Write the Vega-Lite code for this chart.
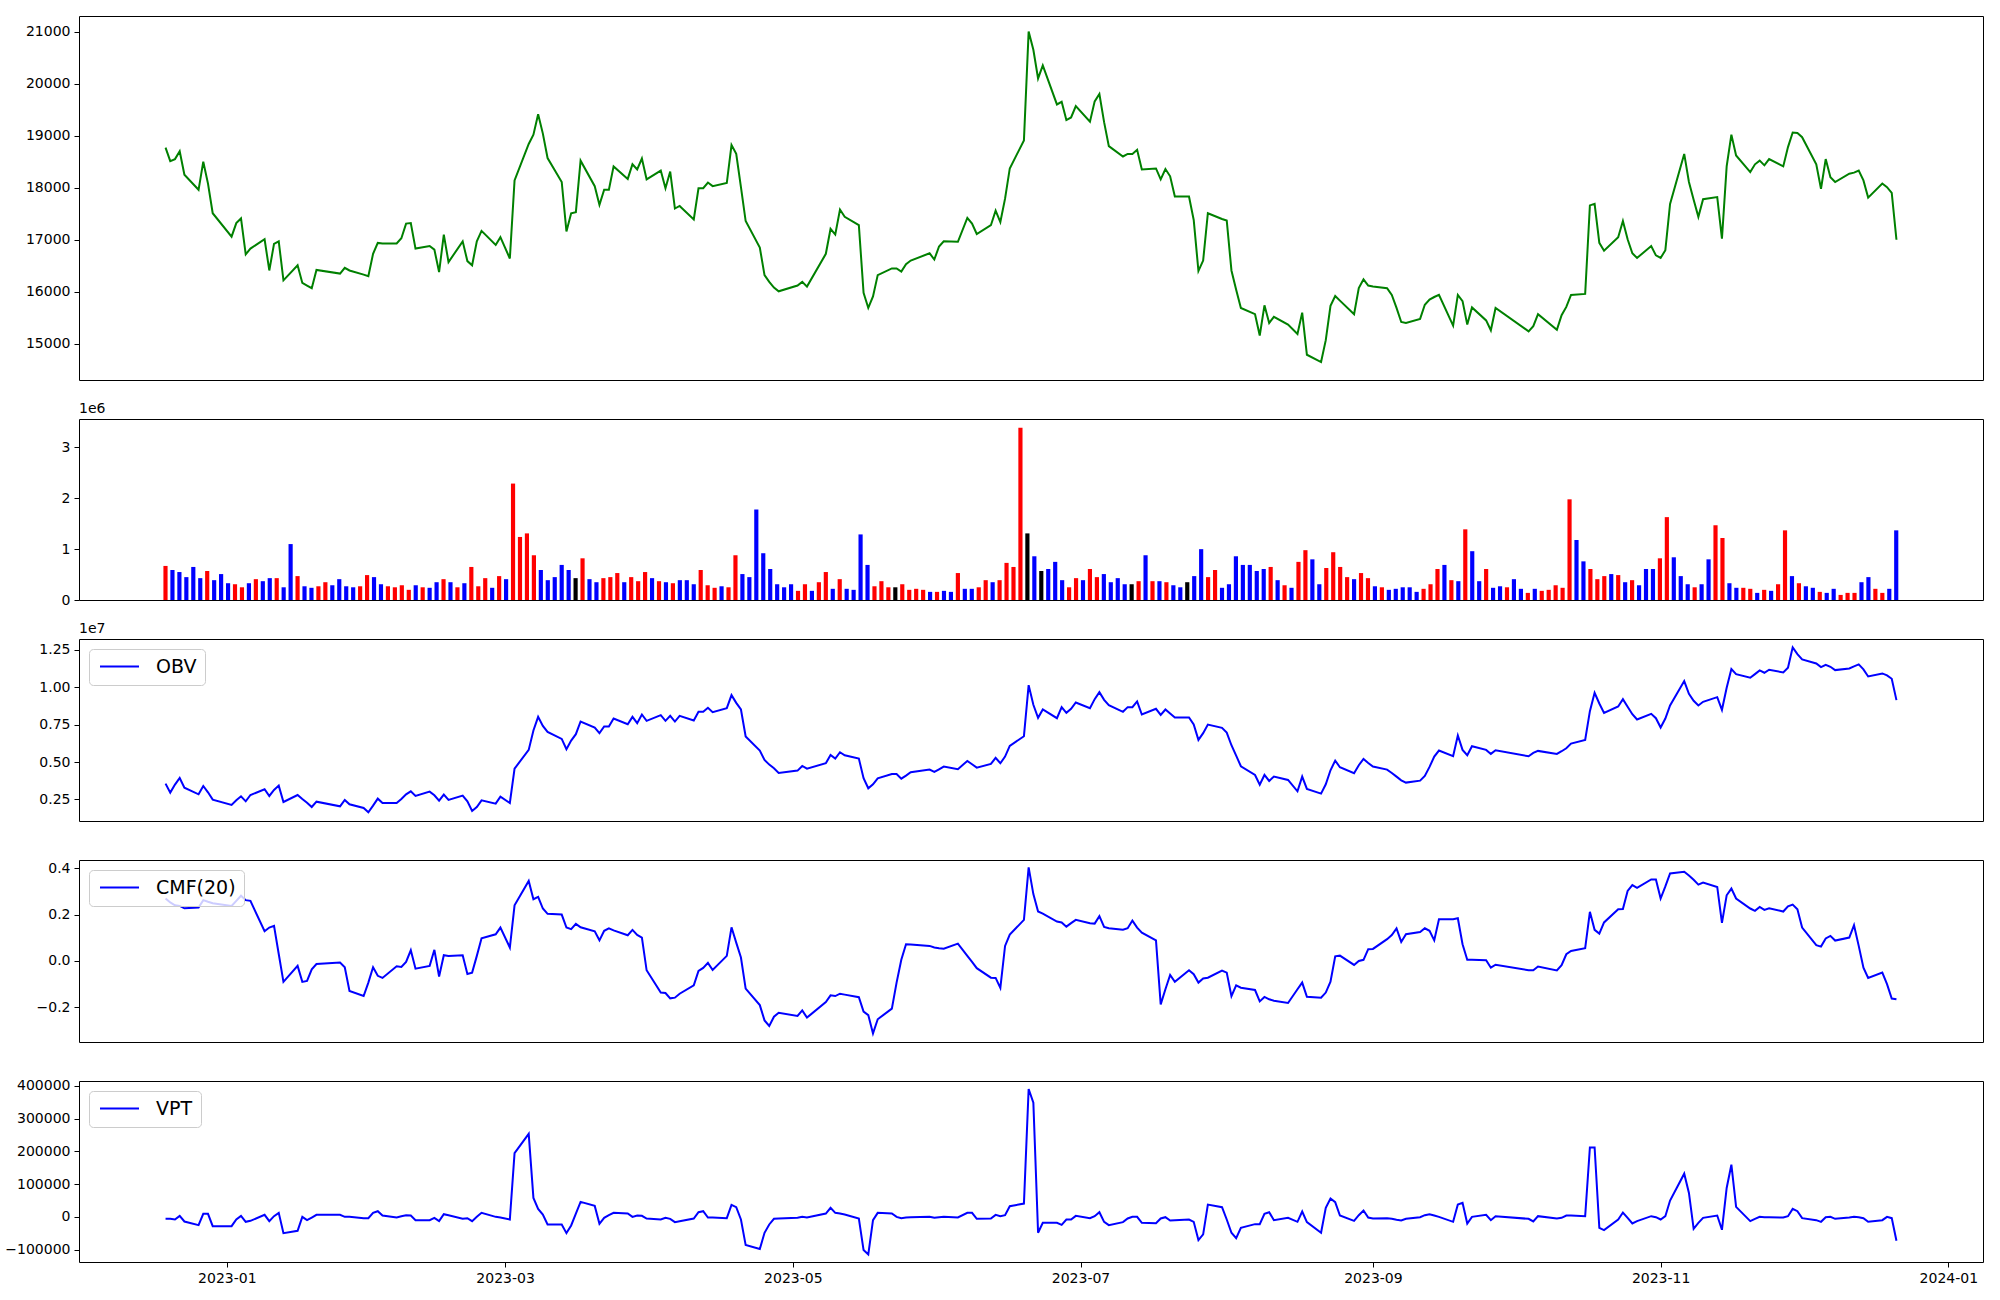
{
"$schema":"https://vega.github.io/schema/vega-lite/v6.json",
"background":"white",
"padding":{"left":4,"top":15,"right":10,"bottom":5},
"config":{
"view":{"stroke":"black","strokeWidth":1},
"font":"DejaVu Sans",
"axis":{"labelFont":"DejaVu Sans","labelFontSize":14,"labelColor":"black","tickColor":"black","tickSize":5,"labelPadding":4,"domain":false,"grid":false,"title":null,"labelFlush":false,"labelOverlap":false},
"legend":{"orient":"top-left","offset":10,"fillColor":"rgba(255,255,255,0.8)","strokeColor":"#cccccc","cornerRadius":4,"padding":8,"title":null,"labelFont":"DejaVu Sans","labelFontSize":19,"labelColor":"black","labelOffset":27,"symbolType":"M-3,0L3,0","symbolSize":169,"symbolOffset":13,"symbolStrokeWidth":2},
"title":{"anchor":"start","fontSize":14,"font":"DejaVu Sans","fontWeight":"normal","color":"black","offset":3,"frame":"group"}
},
"datasets":{"d":[
{"date":"2022-12-19","close":18770,"volume":670000,"dir":"up","obv":3560000,"cmf":0.269,"vpt":-5686},
{"date":"2022-12-20","close":18510,"volume":590000,"dir":"down","obv":2957000,"cmf":0.252,"vpt":-5686},
{"date":"2022-12-21","close":18550,"volume":550000,"dir":"down","obv":3493000,"cmf":0.240,"vpt":-7712},
{"date":"2022-12-22","close":18700,"volume":450000,"dir":"down","obv":3939000,"cmf":0.237,"vpt":3433},
{"date":"2022-12-23","close":18250,"volume":650000,"dir":"down","obv":3292000,"cmf":0.227,"vpt":-13791},
{"date":"2022-12-26","close":17960,"volume":430000,"dir":"down","obv":2845000,"cmf":0.230,"vpt":-24936},
{"date":"2022-12-27","close":18500,"volume":570000,"dir":"up","obv":3403000,"cmf":0.262,"vpt":9512},
{"date":"2022-12-28","close":18080,"volume":390000,"dir":"down","obv":2979000,"cmf":0.255,"vpt":9512},
{"date":"2022-12-29","close":17510,"volume":510000,"dir":"down","obv":2488000,"cmf":0.249,"vpt":-27976},
{"date":"2023-01-02","close":17060,"volume":330000,"dir":"down","obv":2131000,"cmf":0.237,"vpt":-27976},
{"date":"2023-01-03","close":17320,"volume":310000,"dir":"up","obv":2443000,"cmf":0.259,"vpt":-7712},
{"date":"2023-01-04","close":17410,"volume":250000,"dir":"up","obv":2711000,"cmf":0.281,"vpt":3433},
{"date":"2023-01-05","close":16720,"volume":330000,"dir":"down","obv":2376000,"cmf":0.262,"vpt":-14804},
{"date":"2023-01-06","close":16830,"volume":410000,"dir":"up","obv":2800000,"cmf":0.259,"vpt":-11765},
{"date":"2023-01-09","close":17010,"volume":370000,"dir":"down","obv":3180000,"cmf":0.128,"vpt":6473},
{"date":"2023-01-10","close":16410,"volume":430000,"dir":"down","obv":2734000,"cmf":0.144,"vpt":-12778},
{"date":"2023-01-11","close":16920,"volume":430000,"dir":"up","obv":3135000,"cmf":0.151,"vpt":2420},
{"date":"2023-01-12","close":16970,"volume":250000,"dir":"down","obv":3426000,"cmf":0.030,"vpt":12552},
{"date":"2023-01-13","close":16220,"volume":1100000,"dir":"down","obv":2332000,"cmf":-0.090,"vpt":-49253},
{"date":"2023-01-16","close":16510,"volume":470000,"dir":"up","obv":2800000,"cmf":-0.021,"vpt":-42161},
{"date":"2023-01-17","close":16170,"volume":270000,"dir":"down","obv":2533000,"cmf":-0.090,"vpt":394},
{"date":"2023-01-18","close":16120,"volume":240000,"dir":"down","obv":2287000,"cmf":-0.086,"vpt":-9738},
{"date":"2023-01-19","close":16070,"volume":270000,"dir":"up","obv":1997000,"cmf":-0.036,"vpt":-1633},
{"date":"2023-01-20","close":16420,"volume":350000,"dir":"up","obv":2354000,"cmf":-0.013,"vpt":6473},
{"date":"2023-01-25","close":16350,"volume":290000,"dir":"down","obv":2041000,"cmf":-0.007,"vpt":6473},
{"date":"2023-01-26","close":16460,"volume":410000,"dir":"down","obv":2466000,"cmf":-0.027,"vpt":394},
{"date":"2023-01-27","close":16410,"volume":270000,"dir":"down","obv":2175000,"cmf":-0.129,"vpt":394},
{"date":"2023-01-30","close":16330,"volume":250000,"dir":"down","obv":1930000,"cmf":-0.151,"vpt":-3659},
{"date":"2023-01-31","close":16300,"volume":270000,"dir":"up","obv":1640000,"cmf":-0.093,"vpt":-3659},
{"date":"2023-02-01","close":16730,"volume":490000,"dir":"up","obv":2086000,"cmf":-0.027,"vpt":12552},
{"date":"2023-02-02","close":16940,"volume":450000,"dir":"down","obv":2555000,"cmf":-0.064,"vpt":17618},
{"date":"2023-02-03","close":16930,"volume":310000,"dir":"down","obv":2265000,"cmf":-0.073,"vpt":4446},
{"date":"2023-02-06","close":16930,"volume":270000,"dir":"up","obv":2265000,"cmf":-0.023,"vpt":-1633},
{"date":"2023-02-07","close":17030,"volume":250000,"dir":"up","obv":2533000,"cmf":-0.026,"vpt":2420},
{"date":"2023-02-08","close":17310,"volume":290000,"dir":"up","obv":2845000,"cmf":-0.004,"vpt":5460},
{"date":"2023-02-09","close":17320,"volume":200000,"dir":"up","obv":3046000,"cmf":0.046,"vpt":4446},
{"date":"2023-02-10","close":16830,"volume":290000,"dir":"down","obv":2734000,"cmf":-0.033,"vpt":-9738},
{"date":"2023-02-13","close":16880,"volume":250000,"dir":"up","obv":3024000,"cmf":-0.021,"vpt":-9738},
{"date":"2023-02-14","close":16810,"volume":240000,"dir":"down","obv":2778000,"cmf":0.048,"vpt":-2646},
{"date":"2023-02-15","close":16380,"volume":350000,"dir":"down","obv":2421000,"cmf":-0.067,"vpt":-12778},
{"date":"2023-02-16","close":17100,"volume":410000,"dir":"up","obv":2823000,"cmf":0.025,"vpt":8499},
{"date":"2023-02-17","close":16570,"volume":350000,"dir":"down","obv":2466000,"cmf":0.022,"vpt":5460},
{"date":"2023-02-20","close":16970,"volume":250000,"dir":"up","obv":2756000,"cmf":0.025,"vpt":-5686},
{"date":"2023-02-21","close":16590,"volume":330000,"dir":"down","obv":2376000,"cmf":-0.056,"vpt":-3659},
{"date":"2023-02-22","close":16510,"volume":650000,"dir":"up","obv":1729000,"cmf":-0.050,"vpt":-12778},
{"date":"2023-02-23","close":16970,"volume":270000,"dir":"up","obv":1997000,"cmf":0.022,"vpt":394},
{"date":"2023-02-24","close":17170,"volume":430000,"dir":"up","obv":2443000,"cmf":0.098,"vpt":12552},
{"date":"2023-02-27","close":16900,"volume":240000,"dir":"down","obv":2220000,"cmf":0.115,"vpt":394},
{"date":"2023-02-28","close":17050,"volume":470000,"dir":"up","obv":2689000,"cmf":0.144,"vpt":-1633},
{"date":"2023-03-02","close":16640,"volume":410000,"dir":"down","obv":2265000,"cmf":0.058,"vpt":-7712},
{"date":"2023-03-03","close":18140,"volume":2290000,"dir":"up","obv":4564000,"cmf":0.240,"vpt":194928},
{"date":"2023-03-06","close":18840,"volume":1240000,"dir":"up","obv":5815000,"cmf":0.345,"vpt":253694},
{"date":"2023-03-07","close":19020,"volume":1310000,"dir":"up","obv":7109000,"cmf":0.266,"vpt":58146},
{"date":"2023-03-08","close":19410,"volume":880000,"dir":"up","obv":8025000,"cmf":0.276,"vpt":24710},
{"date":"2023-03-09","close":19040,"volume":590000,"dir":"down","obv":7422000,"cmf":0.226,"vpt":7486},
{"date":"2023-03-10","close":18570,"volume":390000,"dir":"down","obv":7020000,"cmf":0.203,"vpt":-22910},
{"date":"2023-03-13","close":18110,"volume":450000,"dir":"down","obv":6551000,"cmf":0.200,"vpt":-22910},
{"date":"2023-03-14","close":17160,"volume":690000,"dir":"down","obv":5859000,"cmf":0.144,"vpt":-49253},
{"date":"2023-03-15","close":17510,"volume":590000,"dir":"down","obv":6440000,"cmf":0.137,"vpt":-25950},
{"date":"2023-03-16","close":17530,"volume":430000,"dir":"flat","obv":6864000,"cmf":0.160,"vpt":10526},
{"date":"2023-03-17","close":18520,"volume":820000,"dir":"up","obv":7712000,"cmf":0.145,"vpt":45988},
{"date":"2023-03-20","close":18030,"volume":410000,"dir":"down","obv":7310000,"cmf":0.128,"vpt":33830},
{"date":"2023-03-21","close":17670,"volume":350000,"dir":"down","obv":6931000,"cmf":0.089,"vpt":-20884},
{"date":"2023-03-22","close":17960,"volume":430000,"dir":"up","obv":7377000,"cmf":0.130,"vpt":-2646},
{"date":"2023-03-23","close":17960,"volume":450000,"dir":"up","obv":7377000,"cmf":0.141,"vpt":5460},
{"date":"2023-03-24","close":18410,"volume":530000,"dir":"up","obv":7913000,"cmf":0.132,"vpt":12552},
{"date":"2023-03-27","close":18170,"volume":350000,"dir":"down","obv":7534000,"cmf":0.111,"vpt":10526},
{"date":"2023-03-28","close":18450,"volume":450000,"dir":"up","obv":8025000,"cmf":0.134,"vpt":394},
{"date":"2023-03-29","close":18350,"volume":370000,"dir":"up","obv":7601000,"cmf":0.112,"vpt":4446},
{"date":"2023-03-30","close":18560,"volume":550000,"dir":"up","obv":8181000,"cmf":0.101,"vpt":3433},
{"date":"2023-03-31","close":18160,"volume":430000,"dir":"down","obv":7757000,"cmf":-0.040,"vpt":-4672},
{"date":"2023-04-03","close":18330,"volume":370000,"dir":"up","obv":8136000,"cmf":-0.136,"vpt":-7712},
{"date":"2023-04-04","close":17990,"volume":350000,"dir":"down","obv":7757000,"cmf":-0.138,"vpt":-2646},
{"date":"2023-04-05","close":18310,"volume":330000,"dir":"up","obv":8092000,"cmf":-0.161,"vpt":-5686},
{"date":"2023-04-06","close":17600,"volume":390000,"dir":"down","obv":7712000,"cmf":-0.158,"vpt":-15818},
{"date":"2023-04-07","close":17650,"volume":390000,"dir":"down","obv":8092000,"cmf":-0.141,"vpt":-12778},
{"date":"2023-04-10","close":17390,"volume":310000,"dir":"down","obv":7779000,"cmf":-0.105,"vpt":-4672},
{"date":"2023-04-11","close":17990,"volume":590000,"dir":"up","obv":8360000,"cmf":-0.043,"vpt":14578},
{"date":"2023-04-12","close":17990,"volume":290000,"dir":"up","obv":8360000,"cmf":-0.030,"vpt":17618},
{"date":"2023-04-13","close":18100,"volume":240000,"dir":"up","obv":8628000,"cmf":-0.008,"vpt":-1633},
{"date":"2023-04-14","close":18030,"volume":270000,"dir":"down","obv":8337000,"cmf":-0.039,"vpt":-1633},
{"date":"2023-04-17","close":18090,"volume":250000,"dir":"up","obv":8605000,"cmf":0.022,"vpt":-3659},
{"date":"2023-04-18","close":18820,"volume":880000,"dir":"up","obv":9476000,"cmf":0.145,"vpt":36869},
{"date":"2023-04-19","close":18650,"volume":510000,"dir":"down","obv":8962000,"cmf":0.079,"vpt":29776},
{"date":"2023-04-20","close":18010,"volume":450000,"dir":"down","obv":8516000,"cmf":0.015,"vpt":-7712},
{"date":"2023-04-21","close":17360,"volume":1780000,"dir":"down","obv":6708000,"cmf":-0.119,"vpt":-85728},
{"date":"2023-04-24","close":16850,"volume":920000,"dir":"down","obv":5770000,"cmf":-0.190,"vpt":-97887},
{"date":"2023-04-25","close":16320,"volume":610000,"dir":"down","obv":5145000,"cmf":-0.256,"vpt":-48240},
{"date":"2023-04-26","close":16190,"volume":310000,"dir":"down","obv":4832000,"cmf":-0.280,"vpt":-22910},
{"date":"2023-04-27","close":16080,"volume":250000,"dir":"down","obv":4587000,"cmf":-0.240,"vpt":-5686},
{"date":"2023-04-28","close":16010,"volume":310000,"dir":"down","obv":4274000,"cmf":-0.223,"vpt":-4672},
{"date":"2023-05-02","close":16120,"volume":180000,"dir":"up","obv":4430000,"cmf":-0.237,"vpt":-2646},
{"date":"2023-05-03","close":16190,"volume":310000,"dir":"up","obv":4743000,"cmf":-0.213,"vpt":394},
{"date":"2023-05-04","close":16100,"volume":180000,"dir":"down","obv":4564000,"cmf":-0.244,"vpt":-1633},
{"date":"2023-05-08","close":16730,"volume":350000,"dir":"up","obv":4921000,"cmf":-0.177,"vpt":10526},
{"date":"2023-05-09","close":17210,"volume":550000,"dir":"up","obv":5480000,"cmf":-0.148,"vpt":27750},
{"date":"2023-05-10","close":17100,"volume":220000,"dir":"down","obv":5234000,"cmf":-0.151,"vpt":12552},
{"date":"2023-05-11","close":17580,"volume":410000,"dir":"up","obv":5658000,"cmf":-0.141,"vpt":10526},
{"date":"2023-05-12","close":17440,"volume":220000,"dir":"down","obv":5457000,"cmf":-0.145,"vpt":7486},
{"date":"2023-05-15","close":17280,"volume":200000,"dir":"down","obv":5234000,"cmf":-0.156,"vpt":-4672},
{"date":"2023-05-16","close":15980,"volume":1290000,"dir":"down","obv":3917000,"cmf":-0.218,"vpt":-100926},
{"date":"2023-05-17","close":15690,"volume":690000,"dir":"down","obv":3247000,"cmf":-0.233,"vpt":-114098},
{"date":"2023-05-18","close":15910,"volume":270000,"dir":"up","obv":3515000,"cmf":-0.312,"vpt":-9738},
{"date":"2023-05-19","close":16320,"volume":370000,"dir":"up","obv":3917000,"cmf":-0.251,"vpt":12552},
{"date":"2023-05-22","close":16450,"volume":250000,"dir":"up","obv":4207000,"cmf":-0.205,"vpt":10526},
{"date":"2023-05-23","close":16450,"volume":250000,"dir":"flat","obv":4207000,"cmf":-0.093,"vpt":394},
{"date":"2023-05-24","close":16390,"volume":310000,"dir":"up","obv":3894000,"cmf":0.005,"vpt":-3659},
{"date":"2023-05-25","close":16530,"volume":200000,"dir":"up","obv":4095000,"cmf":0.072,"vpt":-1633},
{"date":"2023-05-26","close":16600,"volume":220000,"dir":"up","obv":4319000,"cmf":0.071,"vpt":-619},
{"date":"2023-05-30","close":16740,"volume":200000,"dir":"up","obv":4497000,"cmf":0.065,"vpt":394},
{"date":"2023-05-31","close":16620,"volume":160000,"dir":"down","obv":4341000,"cmf":0.058,"vpt":-2646},
{"date":"2023-06-01","close":16870,"volume":160000,"dir":"up","obv":4520000,"cmf":0.055,"vpt":-619},
{"date":"2023-06-02","close":16970,"volume":180000,"dir":"down","obv":4698000,"cmf":0.053,"vpt":394},
{"date":"2023-06-05","close":16960,"volume":160000,"dir":"down","obv":4520000,"cmf":0.075,"vpt":-1633},
{"date":"2023-06-07","close":17420,"volume":530000,"dir":"up","obv":5078000,"cmf":0.022,"vpt":12552},
{"date":"2023-06-08","close":17310,"volume":220000,"dir":"down","obv":4854000,"cmf":-0.004,"vpt":12552},
{"date":"2023-06-09","close":17110,"volume":220000,"dir":"down","obv":4631000,"cmf":-0.031,"vpt":-5686},
{"date":"2023-06-12","close":17280,"volume":250000,"dir":"up","obv":4877000,"cmf":-0.072,"vpt":-4672},
{"date":"2023-06-13","close":17560,"volume":390000,"dir":"up","obv":5279000,"cmf":-0.073,"vpt":6473},
{"date":"2023-06-14","close":17340,"volume":350000,"dir":"down","obv":4921000,"cmf":-0.116,"vpt":2420},
{"date":"2023-06-15","close":17790,"volume":390000,"dir":"up","obv":5368000,"cmf":0.065,"vpt":5460},
{"date":"2023-06-16","close":18370,"volume":730000,"dir":"up","obv":6082000,"cmf":0.114,"vpt":32816},
{"date":"2023-06-19","close":18910,"volume":650000,"dir":"up","obv":6730000,"cmf":0.177,"vpt":40922},
{"date":"2023-06-20","close":21000,"volume":3390000,"dir":"up","obv":10146000,"cmf":0.403,"vpt":390476},
{"date":"2023-06-21","close":20650,"volume":1310000,"dir":"flat","obv":8828000,"cmf":0.288,"vpt":348934},
{"date":"2023-06-22","close":20100,"volume":860000,"dir":"down","obv":7958000,"cmf":0.213,"vpt":-48240},
{"date":"2023-06-23","close":20350,"volume":570000,"dir":"flat","obv":8516000,"cmf":0.204,"vpt":-17844},
{"date":"2023-06-26","close":19600,"volume":610000,"dir":"down","obv":7935000,"cmf":0.170,"vpt":-17844},
{"date":"2023-06-27","close":19650,"volume":750000,"dir":"down","obv":8672000,"cmf":0.166,"vpt":-23923},
{"date":"2023-06-28","close":19300,"volume":390000,"dir":"down","obv":8293000,"cmf":0.148,"vpt":-7712},
{"date":"2023-06-29","close":19350,"volume":250000,"dir":"up","obv":8561000,"cmf":0.163,"vpt":-7712},
{"date":"2023-06-30","close":19570,"volume":430000,"dir":"up","obv":8985000,"cmf":0.177,"vpt":3433},
{"date":"2023-07-03","close":19270,"volume":390000,"dir":"down","obv":8605000,"cmf":0.163,"vpt":-3659},
{"date":"2023-07-04","close":19660,"volume":610000,"dir":"up","obv":9208000,"cmf":0.161,"vpt":2420},
{"date":"2023-07-05","close":19800,"volume":450000,"dir":"up","obv":9677000,"cmf":0.193,"vpt":14578},
{"date":"2023-07-06","close":19260,"volume":510000,"dir":"down","obv":9163000,"cmf":0.147,"vpt":-14804},
{"date":"2023-07-07","close":18800,"volume":350000,"dir":"down","obv":8806000,"cmf":0.141,"vpt":-24936},
{"date":"2023-07-10","close":18600,"volume":430000,"dir":"down","obv":8360000,"cmf":0.135,"vpt":-15818},
{"date":"2023-07-11","close":18650,"volume":310000,"dir":"down","obv":8672000,"cmf":0.141,"vpt":-4672},
{"date":"2023-07-12","close":18650,"volume":310000,"dir":"flat","obv":8672000,"cmf":0.174,"vpt":394},
{"date":"2023-07-13","close":18730,"volume":370000,"dir":"up","obv":9052000,"cmf":0.144,"vpt":394},
{"date":"2023-07-14","close":18350,"volume":880000,"dir":"down","obv":8181000,"cmf":0.122,"vpt":-17844},
{"date":"2023-07-17","close":18370,"volume":370000,"dir":"up","obv":8561000,"cmf":0.089,"vpt":-18857},
{"date":"2023-07-18","close":18160,"volume":370000,"dir":"down","obv":8159000,"cmf":-0.187,"vpt":-4672},
{"date":"2023-07-19","close":18360,"volume":350000,"dir":"up","obv":8516000,"cmf":-0.122,"vpt":-619},
{"date":"2023-07-20","close":18220,"volume":290000,"dir":"down","obv":8248000,"cmf":-0.060,"vpt":-10752},
{"date":"2023-07-21","close":17830,"volume":250000,"dir":"down","obv":7980000,"cmf":-0.090,"vpt":-9738},
{"date":"2023-07-24","close":17830,"volume":350000,"dir":"flat","obv":7980000,"cmf":-0.040,"vpt":-7712},
{"date":"2023-07-25","close":17380,"volume":470000,"dir":"down","obv":7511000,"cmf":-0.057,"vpt":-14804},
{"date":"2023-07-26","close":16400,"volume":1000000,"dir":"down","obv":6484000,"cmf":-0.093,"vpt":-70530},
{"date":"2023-07-27","close":16600,"volume":450000,"dir":"up","obv":6931000,"cmf":-0.075,"vpt":-53306},
{"date":"2023-07-28","close":17510,"volume":590000,"dir":"up","obv":7511000,"cmf":-0.072,"vpt":37882},
{"date":"2023-07-31","close":17400,"volume":240000,"dir":"down","obv":7288000,"cmf":-0.041,"vpt":29776},
{"date":"2023-08-01","close":17370,"volume":310000,"dir":"down","obv":6975000,"cmf":-0.050,"vpt":-7712},
{"date":"2023-08-02","close":16410,"volume":860000,"dir":"down","obv":6127000,"cmf":-0.152,"vpt":-48240},
{"date":"2023-08-03","close":16040,"volume":690000,"dir":"down","obv":5435000,"cmf":-0.105,"vpt":-64451},
{"date":"2023-08-04","close":15690,"volume":690000,"dir":"down","obv":4720000,"cmf":-0.115,"vpt":-33042},
{"date":"2023-08-07","close":15570,"volume":570000,"dir":"down","obv":4140000,"cmf":-0.125,"vpt":-21897},
{"date":"2023-08-08","close":15160,"volume":610000,"dir":"down","obv":3493000,"cmf":-0.174,"vpt":-21897},
{"date":"2023-08-09","close":15740,"volume":650000,"dir":"up","obv":4140000,"cmf":-0.155,"vpt":9512},
{"date":"2023-08-10","close":15400,"volume":390000,"dir":"down","obv":3738000,"cmf":-0.165,"vpt":14578},
{"date":"2023-08-11","close":15520,"volume":290000,"dir":"up","obv":4028000,"cmf":-0.171,"vpt":-9738},
{"date":"2023-08-14","close":15370,"volume":240000,"dir":"down","obv":3805000,"cmf":-0.181,"vpt":-2646},
{"date":"2023-08-16","close":15190,"volume":750000,"dir":"up","obv":3046000,"cmf":-0.122,"vpt":-14804},
{"date":"2023-08-17","close":15600,"volume":980000,"dir":"up","obv":4028000,"cmf":-0.093,"vpt":16604},
{"date":"2023-08-18","close":14790,"volume":800000,"dir":"down","obv":3202000,"cmf":-0.154,"vpt":-15818},
{"date":"2023-08-21","close":14650,"volume":310000,"dir":"down","obv":2890000,"cmf":-0.158,"vpt":-48240},
{"date":"2023-08-22","close":15070,"volume":630000,"dir":"up","obv":3515000,"cmf":-0.136,"vpt":27750},
{"date":"2023-08-23","close":15730,"volume":940000,"dir":"up","obv":4453000,"cmf":-0.089,"vpt":56120},
{"date":"2023-08-24","close":15920,"volume":650000,"dir":"up","obv":5100000,"cmf":0.020,"vpt":44975},
{"date":"2023-08-25","close":15830,"volume":450000,"dir":"up","obv":4654000,"cmf":0.023,"vpt":4446},
{"date":"2023-08-28","close":15570,"volume":410000,"dir":"down","obv":4252000,"cmf":-0.017,"vpt":-11765},
{"date":"2023-08-29","close":16070,"volume":530000,"dir":"up","obv":4788000,"cmf":0.000,"vpt":5460},
{"date":"2023-08-30","close":16240,"volume":430000,"dir":"up","obv":5212000,"cmf":0.005,"vpt":19644},
{"date":"2023-08-31","close":16120,"volume":270000,"dir":"down","obv":4944000,"cmf":0.051,"vpt":-1633},
{"date":"2023-09-01","close":16100,"volume":250000,"dir":"up","obv":4698000,"cmf":0.052,"vpt":-4672},
{"date":"2023-09-04","close":16070,"volume":200000,"dir":"down","obv":4497000,"cmf":0.094,"vpt":-3659},
{"date":"2023-09-05","close":15940,"volume":220000,"dir":"down","obv":4274000,"cmf":0.112,"vpt":-5686},
{"date":"2023-09-06","close":15690,"volume":250000,"dir":"down","obv":4028000,"cmf":0.140,"vpt":-8725},
{"date":"2023-09-07","close":15420,"volume":250000,"dir":"down","obv":3783000,"cmf":0.082,"vpt":-10752},
{"date":"2023-09-08","close":15400,"volume":160000,"dir":"down","obv":3627000,"cmf":0.115,"vpt":-5686},
{"date":"2023-09-11","close":15480,"volume":220000,"dir":"up","obv":3760000,"cmf":0.125,"vpt":-619},
{"date":"2023-09-12","close":15750,"volume":310000,"dir":"up","obv":4073000,"cmf":0.141,"vpt":5460},
{"date":"2023-09-13","close":15850,"volume":610000,"dir":"up","obv":4676000,"cmf":0.130,"vpt":8499},
{"date":"2023-09-14","close":15900,"volume":690000,"dir":"down","obv":5368000,"cmf":0.089,"vpt":4446},
{"date":"2023-09-15","close":15940,"volume":390000,"dir":"up","obv":5770000,"cmf":0.180,"vpt":394},
{"date":"2023-09-18","close":15350,"volume":370000,"dir":"down","obv":5390000,"cmf":0.180,"vpt":-14804},
{"date":"2023-09-19","close":15940,"volume":1390000,"dir":"up","obv":6775000,"cmf":0.184,"vpt":37882},
{"date":"2023-09-20","close":15820,"volume":960000,"dir":"down","obv":5815000,"cmf":0.072,"vpt":42948},
{"date":"2023-09-21","close":15370,"volume":370000,"dir":"down","obv":5457000,"cmf":0.005,"vpt":-19870},
{"date":"2023-09-22","close":15700,"volume":610000,"dir":"up","obv":6060000,"cmf":0.005,"vpt":394},
{"date":"2023-09-25","close":15450,"volume":240000,"dir":"down","obv":5815000,"cmf":0.003,"vpt":6473},
{"date":"2023-09-26","close":15260,"volume":270000,"dir":"down","obv":5547000,"cmf":-0.029,"vpt":-9738},
{"date":"2023-09-27","close":15690,"volume":250000,"dir":"up","obv":5792000,"cmf":-0.016,"vpt":2420},
{"date":"2023-10-04","close":15240,"volume":410000,"dir":"down","obv":5390000,"cmf":-0.040,"vpt":-5686},
{"date":"2023-10-05","close":15340,"volume":220000,"dir":"down","obv":5614000,"cmf":-0.040,"vpt":-13791},
{"date":"2023-10-06","close":15570,"volume":140000,"dir":"up","obv":5748000,"cmf":-0.024,"vpt":2420},
{"date":"2023-10-10","close":15270,"volume":220000,"dir":"down","obv":5547000,"cmf":-0.041,"vpt":-4672},
{"date":"2023-10-11","close":15550,"volume":180000,"dir":"up","obv":5725000,"cmf":-0.018,"vpt":-2646},
{"date":"2023-10-12","close":15710,"volume":200000,"dir":"up","obv":5926000,"cmf":0.029,"vpt":4446},
{"date":"2023-10-13","close":15940,"volume":290000,"dir":"up","obv":6239000,"cmf":0.043,"vpt":4446},
{"date":"2023-10-16","close":15960,"volume":240000,"dir":"up","obv":6484000,"cmf":0.055,"vpt":2420},
{"date":"2023-10-17","close":17660,"volume":1980000,"dir":"up","obv":8404000,"cmf":0.212,"vpt":212152},
{"date":"2023-10-18","close":17690,"volume":1180000,"dir":"down","obv":9632000,"cmf":0.134,"vpt":212152},
{"date":"2023-10-19","close":16940,"volume":760000,"dir":"down","obv":8918000,"cmf":0.118,"vpt":-33042},
{"date":"2023-10-20","close":16790,"volume":610000,"dir":"up","obv":8293000,"cmf":0.166,"vpt":-40134},
{"date":"2023-10-23","close":17050,"volume":410000,"dir":"up","obv":8717000,"cmf":0.223,"vpt":-7712},
{"date":"2023-10-24","close":17360,"volume":470000,"dir":"up","obv":9208000,"cmf":0.224,"vpt":13565},
{"date":"2023-10-25","close":17010,"volume":510000,"dir":"down","obv":8695000,"cmf":0.302,"vpt":-2646},
{"date":"2023-10-26","close":16740,"volume":490000,"dir":"up","obv":8203000,"cmf":0.327,"vpt":-19870},
{"date":"2023-10-27","close":16650,"volume":350000,"dir":"down","obv":7846000,"cmf":0.315,"vpt":-12778},
{"date":"2023-10-30","close":16880,"volume":390000,"dir":"up","obv":8226000,"cmf":0.351,"vpt":2420},
{"date":"2023-10-31","close":16700,"volume":290000,"dir":"down","obv":7935000,"cmf":0.351,"vpt":-619},
{"date":"2023-11-01","close":16650,"volume":610000,"dir":"down","obv":7310000,"cmf":0.269,"vpt":-7712},
{"date":"2023-11-02","close":16800,"volume":610000,"dir":"down","obv":7913000,"cmf":0.321,"vpt":2420},
{"date":"2023-11-03","close":17690,"volume":820000,"dir":"up","obv":8784000,"cmf":0.377,"vpt":50041},
{"date":"2023-11-06","close":18650,"volume":1630000,"dir":"up","obv":10414000,"cmf":0.384,"vpt":132110},
{"date":"2023-11-07","close":18110,"volume":840000,"dir":"down","obv":9565000,"cmf":0.368,"vpt":73344},
{"date":"2023-11-08","close":17770,"volume":470000,"dir":"down","obv":9096000,"cmf":0.350,"vpt":-36082},
{"date":"2023-11-09","close":17440,"volume":310000,"dir":"down","obv":8784000,"cmf":0.329,"vpt":-17844},
{"date":"2023-11-10","close":17780,"volume":250000,"dir":"up","obv":9029000,"cmf":0.338,"vpt":-2646},
{"date":"2023-11-13","close":17820,"volume":310000,"dir":"down","obv":9342000,"cmf":0.319,"vpt":4446},
{"date":"2023-11-14","close":17020,"volume":800000,"dir":"down","obv":8494000,"cmf":0.164,"vpt":-39121},
{"date":"2023-11-15","close":18410,"volume":1470000,"dir":"up","obv":9967000,"cmf":0.283,"vpt":88542},
{"date":"2023-11-16","close":19020,"volume":1220000,"dir":"up","obv":11217000,"cmf":0.312,"vpt":159466},
{"date":"2023-11-17","close":18620,"volume":330000,"dir":"down","obv":10883000,"cmf":0.269,"vpt":30790},
{"date":"2023-11-20","close":18300,"volume":240000,"dir":"down","obv":10637000,"cmf":0.226,"vpt":-12778},
{"date":"2023-11-21","close":18450,"volume":240000,"dir":"up","obv":10883000,"cmf":0.216,"vpt":-5686},
{"date":"2023-11-22","close":18520,"volume":220000,"dir":"up","obv":11128000,"cmf":0.233,"vpt":394},
{"date":"2023-11-23","close":18430,"volume":140000,"dir":"down","obv":10972000,"cmf":0.220,"vpt":-619},
{"date":"2023-11-24","close":18550,"volume":200000,"dir":"up","obv":11173000,"cmf":0.227,"vpt":-619},
{"date":"2023-11-27","close":18410,"volume":180000,"dir":"down","obv":10994000,"cmf":0.213,"vpt":-1633},
{"date":"2023-11-28","close":18780,"volume":310000,"dir":"up","obv":11307000,"cmf":0.235,"vpt":2420},
{"date":"2023-11-29","close":19060,"volume":1370000,"dir":"up","obv":12669000,"cmf":0.243,"vpt":24710},
{"date":"2023-11-30","close":19050,"volume":470000,"dir":"down","obv":12222000,"cmf":0.223,"vpt":17618},
{"date":"2023-12-01","close":18970,"volume":330000,"dir":"up","obv":11865000,"cmf":0.144,"vpt":-3659},
{"date":"2023-12-04","close":18450,"volume":270000,"dir":"down","obv":11597000,"cmf":0.068,"vpt":-9738},
{"date":"2023-12-05","close":17980,"volume":240000,"dir":"down","obv":11351000,"cmf":0.062,"vpt":-14804},
{"date":"2023-12-06","close":18550,"volume":160000,"dir":"up","obv":11508000,"cmf":0.097,"vpt":-619},
{"date":"2023-12-07","close":18200,"volume":140000,"dir":"down","obv":11374000,"cmf":0.108,"vpt":394},
{"date":"2023-12-08","close":18110,"volume":220000,"dir":"down","obv":11150000,"cmf":0.088,"vpt":-5686},
{"date":"2023-12-11","close":18270,"volume":100000,"dir":"up","obv":11262000,"cmf":0.101,"vpt":-1633},
{"date":"2023-12-12","close":18290,"volume":140000,"dir":"up","obv":11396000,"cmf":0.154,"vpt":394},
{"date":"2023-12-13","close":18330,"volume":140000,"dir":"up","obv":11530000,"cmf":0.065,"vpt":-619},
{"date":"2023-12-14","close":18140,"volume":350000,"dir":"down","obv":11195000,"cmf":-0.029,"vpt":-3659},
{"date":"2023-12-15","close":17810,"volume":450000,"dir":"down","obv":10726000,"cmf":-0.073,"vpt":-14804},
{"date":"2023-12-18","close":18080,"volume":220000,"dir":"up","obv":10927000,"cmf":-0.050,"vpt":-9738},
{"date":"2023-12-19","close":18010,"volume":140000,"dir":"up","obv":10793000,"cmf":-0.100,"vpt":394},
{"date":"2023-12-20","close":17900,"volume":220000,"dir":"down","obv":10570000,"cmf":-0.162,"vpt":-3659},
{"date":"2023-12-21","close":17000,"volume":1370000,"dir":"down","obv":9141000,"cmf":-0.165,"vpt":-72557}
]},
"spacing":39,
"bounds":"flush",
"resolve":{"scale":{"x":"independent","y":"independent","color":"independent"},"legend":{"color":"independent"}},
"vconcat":[
{"width":1904,"height":364,"data":{"name":"d"},
"mark":{"type":"line","color":"#008000","strokeWidth":2},
"encoding":{
"x":{"field":"date","type":"temporal","scale":{"type":"utc","domain":[{"year":2022,"month":11,"date":30,"hours":15,"minutes":36,"utc":true},{"year":2024,"month":1,"date":8,"hours":8,"minutes":24,"utc":true}]},"axis":null},
"y":{"field":"close","type":"quantitative","scale":{"domain":[14305,21300],"nice":false,"zero":false},"axis":{"values":[15000,16000,17000,18000,19000,20000,21000],"format":"d"}}}},
{"width":1904,"height":181,"data":{"name":"d"},"title":{"text":"1e6"},
"mark":{"type":"bar"},
"encoding":{
"x":{"field":"date","timeUnit":"utcyearmonthdate","type":"ordinal","scale":{"paddingInner":0.4,"paddingOuter":0.3,"range":[82.33,1821.4]},"axis":null},
"y":{"field":"volume","type":"quantitative","stack":null,"scale":{"domain":[0,3560000],"nice":false},"axis":{"values":[0,1000000,2000000,3000000],"labelExpr":"format(datum.value/1000000,'d')"}},
"color":{"field":"dir","type":"nominal","scale":{"domain":["up","down","flat"],"range":["#ff0000","#0000ff","#000000"]},"legend":null}}},
{"width":1904,"height":182,"data":{"name":"d"},"title":{"text":"1e7"},
"mark":{"type":"line","strokeWidth":2},
"encoding":{
"x":{"field":"date","type":"temporal","scale":{"type":"utc","domain":[{"year":2022,"month":11,"date":30,"hours":15,"minutes":36,"utc":true},{"year":2024,"month":1,"date":8,"hours":8,"minutes":24,"utc":true}]},"axis":null},
"y":{"field":"obv","type":"quantitative","scale":{"domain":[1060000,13230000],"nice":false,"zero":false},"axis":{"values":[2500000,5000000,7500000,10000000,12500000],"labelExpr":"format(datum.value/10000000,'.2f')"}},
"color":{"datum":"OBV","scale":{"range":["#0000ff"]}}}},
{"width":1904,"height":182,"data":{"name":"d"},
"mark":{"type":"line","strokeWidth":2},
"encoding":{
"x":{"field":"date","type":"temporal","scale":{"type":"utc","domain":[{"year":2022,"month":11,"date":30,"hours":15,"minutes":36,"utc":true},{"year":2024,"month":1,"date":8,"hours":8,"minutes":24,"utc":true}]},"axis":null},
"y":{"field":"cmf","type":"quantitative","scale":{"domain":[-0.349,0.435],"nice":false,"zero":false},"axis":{"values":[-0.2,0,0.2,0.4],"format":".1f"}},
"color":{"datum":"CMF(20)","scale":{"range":["#0000ff"]}}}},
{"width":1904,"height":181,"data":{"name":"d"},
"mark":{"type":"line","strokeWidth":2},
"encoding":{
"x":{"field":"date","type":"temporal","scale":{"type":"utc","domain":[{"year":2022,"month":11,"date":30,"hours":15,"minutes":36,"utc":true},{"year":2024,"month":1,"date":8,"hours":8,"minutes":24,"utc":true}]},"axis":{"values":[{"year":2023,"month":1,"date":1,"utc":true},{"year":2023,"month":3,"date":1,"utc":true},{"year":2023,"month":5,"date":1,"utc":true},{"year":2023,"month":7,"date":1,"utc":true},{"year":2023,"month":9,"date":1,"utc":true},{"year":2023,"month":11,"date":1,"utc":true},{"year":2024,"month":1,"date":1,"utc":true}],"format":"%Y-%m"}},
"y":{"field":"vpt","type":"quantitative","scale":{"domain":[-137400,414900],"nice":false,"zero":false},"axis":{"values":[-100000,0,100000,200000,300000,400000],"format":"d"}},
"color":{"datum":"VPT","scale":{"range":["#0000ff"]}}}}
]
}
